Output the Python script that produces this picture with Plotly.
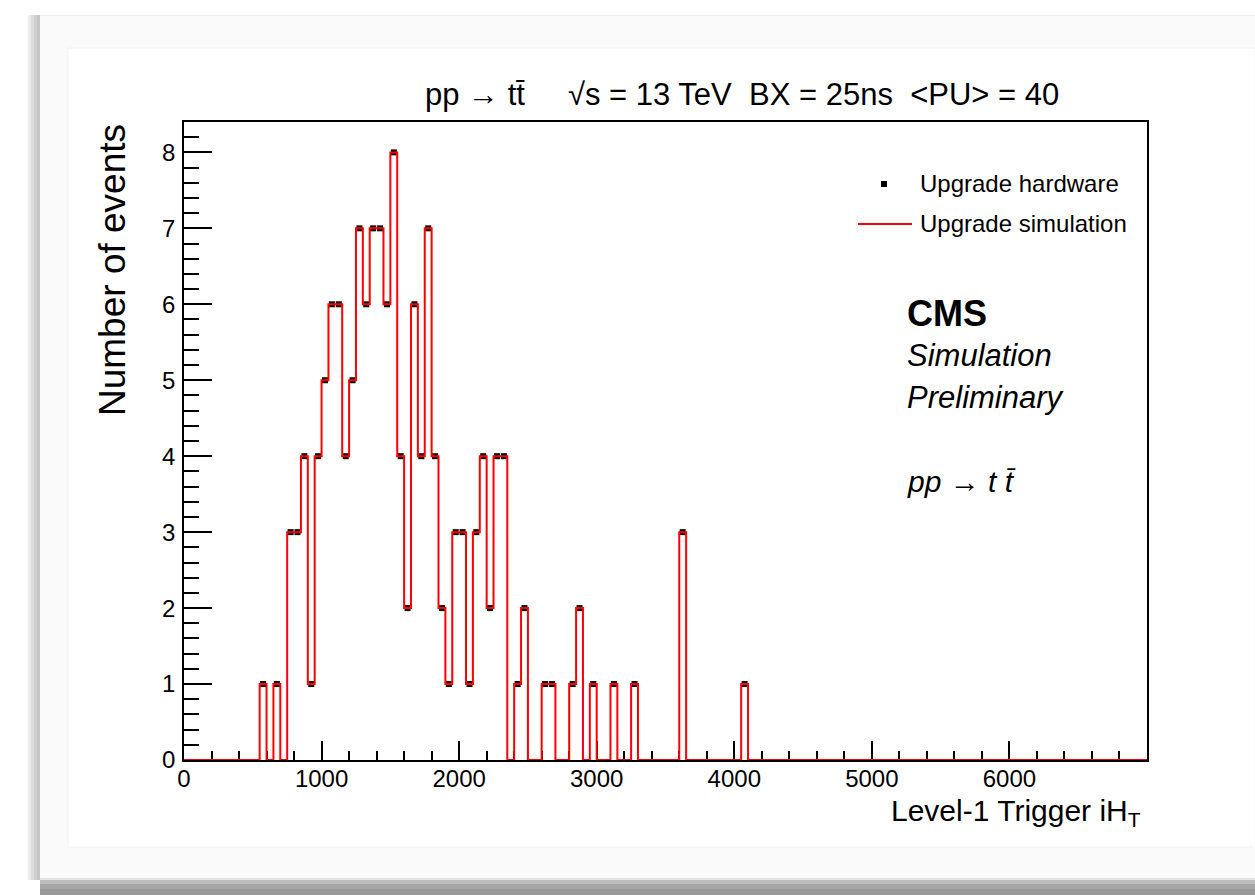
import numpy as np
import plotly.graph_objects as go

# ---------------- data ----------------
bin_width = 50
x_min, x_max = 0, 7000
# lower edges of the non-empty bins and their contents
filled_bin_low = [550, 650, 750, 800, 850, 900, 950, 1000, 1050, 1100, 1150, 1200,
                  1250, 1300, 1350, 1400, 1450, 1500, 1550, 1600, 1650, 1700, 1750,
                  1800, 1850, 1900, 1950, 2000, 2050, 2100, 2150, 2200, 2250, 2300,
                  2400, 2450, 2600, 2650, 2800, 2850, 2950, 3100, 3250, 3600, 4050]
filled_counts = [1, 1, 3, 3, 4, 1, 4, 5, 6, 6, 4, 5,
                 7, 6, 7, 7, 6, 8, 4, 2, 6, 4, 7,
                 4, 2, 1, 3, 3, 1, 3, 4, 2, 4, 4,
                 1, 2, 1, 1, 1, 2, 1, 1, 1, 3, 1]
x_tick_vals = [0, 1000, 2000, 3000, 4000, 5000, 6000]
y_tick_vals = [0, 1, 2, 3, 4, 5, 6, 7, 8]

title_text = "pp \u2192 tt\u0304\u00a0\u00a0\u00a0\u00a0\u00a0\u221as = 13 TeV\u00a0\u00a0BX = 25ns\u00a0\u00a0&lt;PU&gt; = 40"
x_title = "Level-1 Trigger iH<sub>T</sub>"
y_title = "Number of events"
legend_names = ["Upgrade hardware", "Upgrade simulation"]

# ---------------- build histogram ----------------
edges = np.arange(x_min, x_max + bin_width, bin_width)
counts = np.zeros(len(edges) - 1)
for lo, c in zip(filled_bin_low, filled_counts):
    counts[int((lo - x_min) // bin_width)] = c
centers = 0.5 * (edges[:-1] + edges[1:])
step_x = list(edges)
step_y = list(counts) + [counts[-1]]
mask = counts > 0

W, H = 1255, 895
L, R, T, B = 184, 1147, 122, 760
FONT = "Liberation Sans, Arial, Helvetica, sans-serif"


def px(x):
    return (x - L) / (R - L)


def py(y):
    return (B - y) / (B - T)


fig = go.Figure()
fig.add_trace(go.Scatter(
    x=centers[mask], y=counts[mask], mode="markers", name=legend_names[0],
    marker=dict(symbol="square", size=6, color="black"), showlegend=False,
    cliponaxis=False))
fig.add_trace(go.Scatter(
    x=step_x, y=step_y, mode="lines", line_shape="hv", name=legend_names[1],
    line=dict(color="#ff0000", width=2), showlegend=False, cliponaxis=False))

shapes = []


def rect(x0, y0, x1, y1, fill, line=None):
    shapes.append(dict(type="rect", xref="paper", yref="paper", x0=px(x0), x1=px(x1),
                       y0=py(y0), y1=py(y1), fillcolor=fill, layer="below",
                       line=dict(width=0) if line is None else line))


# slide frame / shadow decoration
rect(40, 16, 1255, 878, "#fafafa")
rect(68, 48, 1255, 847, "#ffffff", dict(color="#f2f2f2", width=1))
rect(28, 15, 31, 880, "#ececec")
rect(31, 15, 34, 880, "#dcdcdc")
rect(34, 15, 37, 880, "#cfcfcf")
rect(37, 15, 40, 880, "#c6c6c6")
rect(40, 878, 1255, 880, "#e2e2e2")
rect(40, 880, 1255, 884, "#bdbdbd")
rect(40, 884, 1255, 889, "#a6a6a6")
rect(40, 889, 1255, 895, "#999999")
rect(40, 15, 1255, 16, "#efefef")

# legend symbols
shapes.append(dict(type="rect", xref="paper", yref="paper",
                   x0=px(881), x1=px(887), y0=py(181), y1=py(187),
                   fillcolor="black", line=dict(width=0)))
shapes.append(dict(type="line", xref="paper", yref="paper",
                   x0=px(858), x1=px(912), y0=py(224), y1=py(224),
                   line=dict(color="#ff0000", width=2)))

ann = []


def text(x, y, s, size, xanchor="left", yanchor="middle", angle=0):
    ann.append(dict(x=px(x), y=py(y), xref="paper", yref="paper", text=s,
                    showarrow=False, xanchor=xanchor, yanchor=yanchor,
                    textangle=angle, font=dict(family=FONT, size=size, color="black")))


text(423, 95, title_text, 31)
text(112, 270, y_title, 37, xanchor="center", yanchor="middle", angle=-90)
text(1143, 812, x_title, 30, xanchor="right", yanchor="middle")
text(918, 184, legend_names[0], 24)
text(918, 224, legend_names[1], 24)
text(905, 313, "<b>CMS</b>", 36)
text(905, 355, "<i>Simulation</i>", 31)
text(905, 397, "<i>Preliminary</i>", 31)
text(905, 481, "<i>pp \u2192 t t\u0304</i>", 30)

fig.update_layout(
    width=W, height=H,
    margin=dict(l=L, r=W - R, t=T, b=H - B),
    paper_bgcolor="white", plot_bgcolor="white",
    shapes=shapes, annotations=ann, showlegend=False,
    font=dict(family=FONT, color="black"),
    xaxis=dict(range=[x_min, x_max], tickvals=x_tick_vals,
               ticks="inside", ticklen=19, tickwidth=1.5, tickcolor="black",
               minor=dict(dtick=200, ticks="inside", ticklen=9, tickwidth=1.5, tickcolor="black"),
               showline=True, linecolor="black", linewidth=1.5, mirror=True,
               showgrid=False, zeroline=False, layer="below traces",
               tickfont=dict(family=FONT, size=24), ticklabelstandoff=-4),
    yaxis=dict(range=[0, 8.4], tickvals=y_tick_vals,
               ticks="inside", ticklen=28, tickwidth=1.5, tickcolor="black",
               minor=dict(dtick=0.2, ticks="inside", ticklen=15, tickwidth=1.5, tickcolor="black"),
               showline=True, linecolor="black", linewidth=1.5, mirror=True,
               showgrid=False, zeroline=False, layer="below traces",
               tickfont=dict(family=FONT, size=24), ticklabelstandoff=2),
)

fig.write_html("out.html")
